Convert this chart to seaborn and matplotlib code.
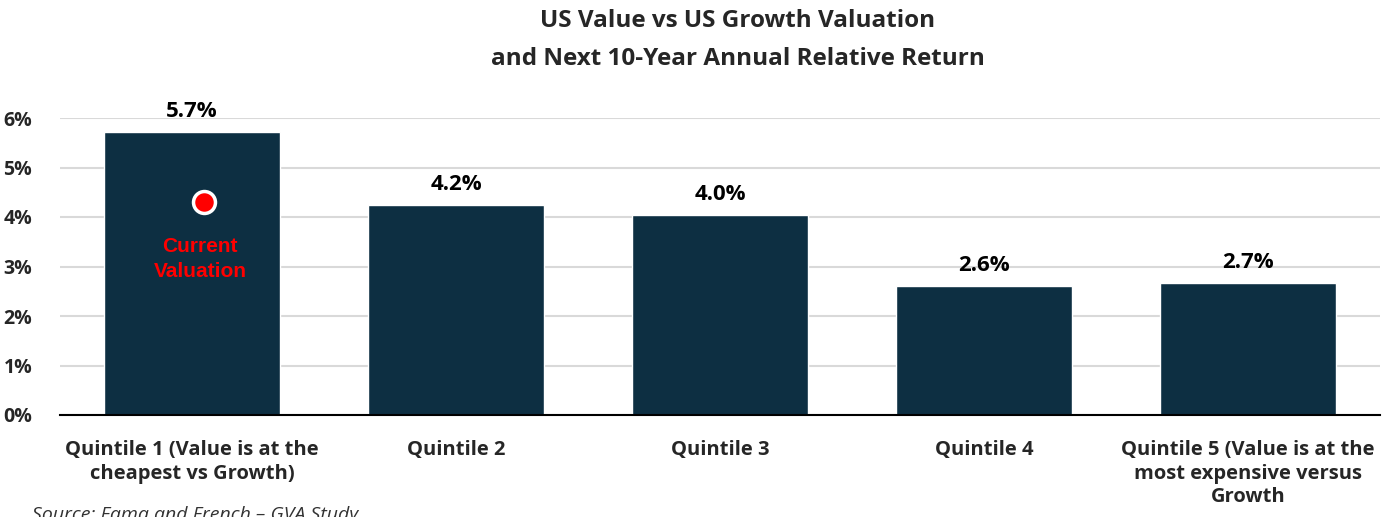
import pandas as pd
import matplotlib.pyplot as plt
import seaborn as sns

# data
categories = ['Quintile 1 (Value is at the\ncheapest vs Growth)', 'Quintile 2', 'Quintile 3',
              'Quintile 4', 'Quintile 5 (Value is at the\nmost expensive versus\nGrowth']
returns = [5.72, 4.24, 4.05, 2.61, 2.67]
labels = ['5.7%', '4.2%', '4.0%', '2.6%', '2.7%']
y_ticks = [0, 1, 2, 3, 4, 5, 6]
current_x = [0.045]
current_y = [4.3]

df = pd.DataFrame({'quintile': categories, 'ret': returns})

sns.set_style('white')
plt.rcParams['font.family'] = ['Open Sans', 'DejaVu Sans']

fig = plt.figure(figsize=(13.85, 5.17), dpi=100)
ax = fig.add_axes([60 / 1385, 1 - 415 / 517, 1320 / 1385, 297 / 517])

sns.barplot(data=df, x='quintile', y='ret', color='#0D2F42', width=0.67,
            saturation=1, ax=ax, zorder=2)

for i, (v, lab) in enumerate(zip(returns, labels)):
    ax.text(i, v + 0.2, lab, ha='center', va='bottom', fontsize=16,
            fontweight='bold', color='black', clip_on=False)

# current valuation marker
ax.scatter(current_x, current_y, s=250, color='red', edgecolor='white',
           linewidth=2.5, zorder=4)
ax.text(current_x[0] - 0.015, current_y[0] - 0.7, 'Current\nValuation', ha='center',
        va='top', fontsize=15, fontweight='bold', color='red',
        family=['Liberation Sans'], linespacing=1.4, zorder=4)

ax.set_xlim(-0.5, 4.5)
ax.set_ylim(0, 6)
ax.set_yticks(y_ticks)
ax.set_yticklabels([f'{t}%' for t in y_ticks], fontsize=14, fontweight='bold')
ax.tick_params(axis='y', length=0, pad=20)
ax.tick_params(axis='x', length=0, pad=18)
for t in ax.get_xticklabels():
    t.set_fontsize(14.5)
    t.set_fontweight('bold')
    t.set_linespacing(1.25)
ax.set_xlabel('')
ax.set_ylabel('')
ax.grid(axis='y', color='#D9D9D9', linewidth=1.5, zorder=0)
for s in ['top', 'right', 'left']:
    ax.spines[s].set_visible(False)
ax.spines['bottom'].set_color('black')
ax.spines['bottom'].set_linewidth(1.5)
ax.spines['bottom'].set_zorder(3)

fig.text(738 / 1385, 1 - 40 / 517, 'US Value vs US Growth Valuation\nand Next 10-Year Annual Relative Return',
         ha='center', va='center', fontsize=17.5, fontweight='bold', linespacing=1.75)
fig.text(32 / 1385, 1 - 506 / 517, 'Source: Fama and French \u2013 GVA Study', ha='left',
         va='top', fontsize=14, style='italic', color='#333333')

plt.savefig('out.png', dpi=100)
